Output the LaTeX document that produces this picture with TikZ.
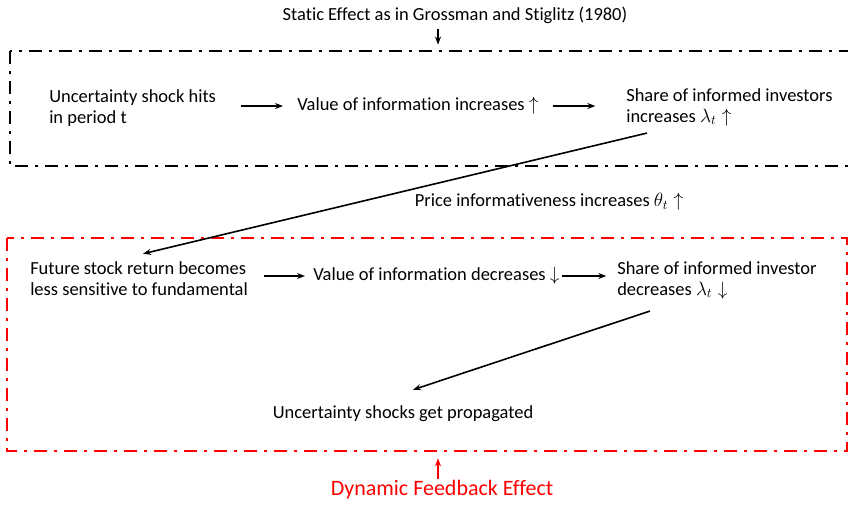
\documentclass[tikz,border=0pt]{standalone}
\usepackage{fontspec}
\setmainfont{Carlito}[Ligatures=NoCommon]
\usetikzlibrary{calc, arrows.meta, positioning}
\definecolor{mainBlack}{gray}{0.0}
\definecolor{feedRed}{RGB}{255,0,0}

\begin{document}
\begin{tikzpicture}[x=0.75pt, y=-0.75pt, >={Stealth[length=6pt, width=4.5pt]},
    txt/.style={inner sep=0pt, align=left, font=\fontsize{13.85pt}{15.75pt}\selectfont},
    flow/.style={->, line width=1.2pt, mainBlack},
    dashdot/.style={line width=2pt, dash pattern=on 9.75pt off 5.25pt on 2.25pt off 5.25pt}]
    \useasboundingbox (0,0) rectangle (848,504);

    % static box
    \draw[dashdot, mainBlack] (10,51) rectangle (856,166);
    \node[txt] (static) at (455,15) {Static Effect as in Grossman and Stiglitz (1980)};
    \node[txt, anchor=west] (shock) at (49,108) {Uncertainty shock hits\\in period t};
    \node[txt, anchor=west] (valinc) at (297,106) {Value of information increases $\uparrow$};
    \node[txt, anchor=west] (shareinc) at (626,107) {Share of informed investors\\increases $\lambda_t\uparrow$};
    \draw[flow, shorten <=18.75pt, shorten >=10.5pt] (shock.east |- valinc.west) -- (valinc.west);
    \draw[flow, shorten <=10.5pt, shorten >=23pt] (valinc.east) -- (valinc.east -| shareinc.west);
    \draw[flow] ($(static.south)+(-17,5)$) -- ($(static.south)+(-17,21)$);

    % price
    \node[txt] (price) at (549,202) {Price informativeness increases $\theta_t\uparrow$};

    % dynamic box
    \draw[dashdot, feedRed] (7,238) rectangle (847.5,451);
    \node[txt, anchor=west] (future) at (30,279) {Future stock return becomes\\less sensitive to fundamental};
    \node[txt, anchor=west] (valdec) at (313,276) {Value of information decreases $\downarrow$};
    \node[txt, anchor=west] (sharedec) at (617,280) {Share of informed investor\\decreases $\lambda_t\downarrow$};
    \node[txt] (propag) at (403,414) {Uncertainty shocks get propagated};
    \draw[flow, shorten <=12pt, shorten >=6pt] (future.east |- valdec.west) -- (valdec.west);
    \draw[flow, shorten <=2pt, shorten >=8pt] (valdec.east) -- (valdec.east -| sharedec.west);

    % feedback loop
    \draw[flow] ($(shareinc.south west)+(21,7)$) -- ($(future.north west)+(113,-8)$);
    \draw[flow] ($(sharedec.south west)+(33,12)$) -- ($(propag.north)+(10,-16)$);

    \node[inner sep=0pt, text=feedRed, font=\fontsize{16.5pt}{19pt}\selectfont] (dynamic) at (442,490) {Dynamic Feedback Effect};
    \draw[->, line width=1.2pt, feedRed] ($(dynamic.north)+(-4,-1)$) -- ($(dynamic.north)+(-4,-22)$);
\end{tikzpicture}
\end{document}
